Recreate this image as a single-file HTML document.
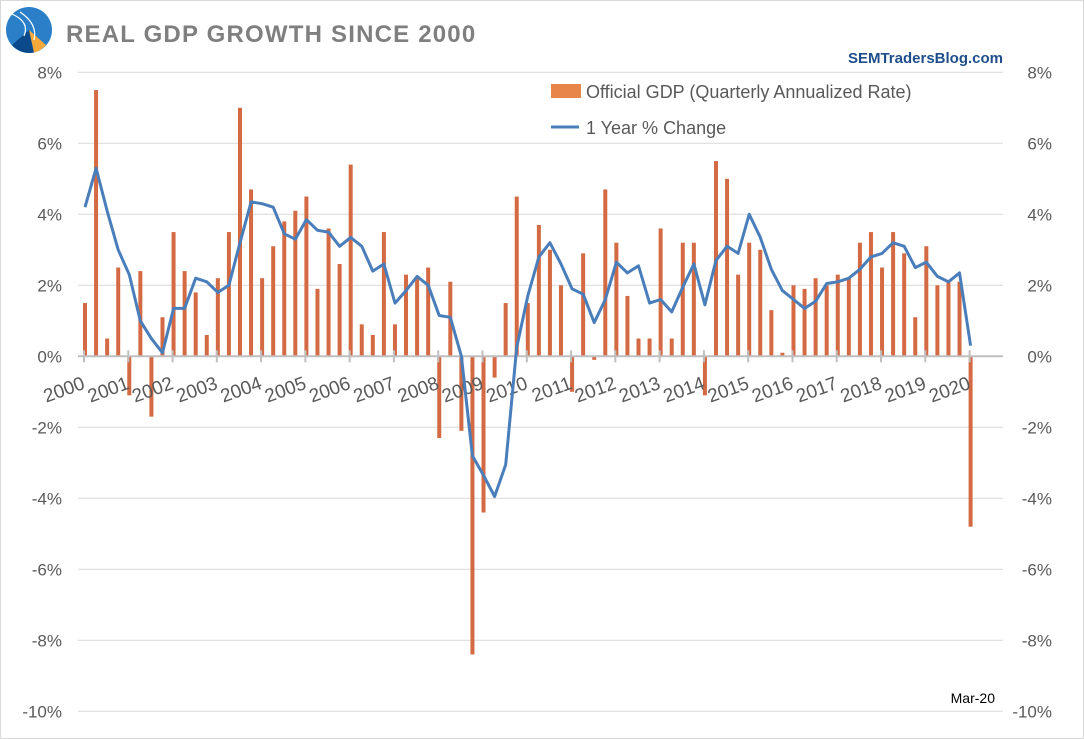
<!DOCTYPE html>
<html><head><meta charset="utf-8"><style>
html,body{margin:0;padding:0;background:#fff;}
body{width:1084px;height:739px;overflow:hidden;}
svg{display:block;font-family:"Liberation Sans",sans-serif;}
</style></head><body>
<svg width="1084" height="739" viewBox="0 0 1084 739">
<rect x="0.5" y="0.5" width="1083" height="738" fill="#fff" stroke="#d9d9d9"/>
<g>
<circle cx="29" cy="30" r="23" fill="#2a7fc8"/>
<path d="M29 30 L12 45 A23 23 0 0 0 34 52.5 Z" fill="#0b4a8a"/>
<path d="M29 30 L34 52.5 A23 23 0 0 0 46 45 Z" fill="#f5a93a"/>
<path d="M12 14 Q30 22 24 36 M20 12 Q38 24 34 40" stroke="#fff" stroke-width="1.2" fill="none"/>
</g>
<text x="66" y="42" font-size="24" font-weight="bold" fill="#7f7f7f" letter-spacing="1.2">REAL GDP GROWTH SINCE 2000</text>
<text x="1003" y="63" font-size="15" font-weight="bold" fill="#1f4e8c" text-anchor="end">SEMTradersBlog.com</text>
<g id="grid"></g>
<g id="bars"></g>
<g id="axis"></g>
<g id="line"></g>
<g>
<rect x="551" y="84" width="30" height="14" fill="#e8854a"/>
<text x="586" y="98" font-size="18" fill="#595959">Official GDP (Quarterly Annualized Rate)</text>
<line x1="551" y1="127" x2="579" y2="127" stroke="#4a7ebb" stroke-width="3"/>
<text x="586" y="134" font-size="18" fill="#595959">1 Year % Change</text>
</g>
<text x="995" y="703" font-size="14" fill="#000" text-anchor="end">Mar-20</text>
</svg>
<script>
const yTicks=[8,6,4,2,0,-2,-4,-6,-8,-10];
const years=['2000','2001','2002','2003','2004','2005','2006','2007','2008','2009','2010','2011','2012','2013','2014','2015','2016','2017','2018','2019','2020'];
const gdpQuarterly=[1.5,7.5,0.5,2.5,-1.1,2.4,-1.7,1.1,3.5,2.4,1.8,0.6,2.2,3.5,7.0,4.7,2.2,3.1,3.8,4.1,4.5,1.9,3.6,2.6,5.4,0.9,0.6,3.5,0.9,2.3,2.2,2.5,-2.3,2.1,-2.1,-8.4,-4.4,-0.6,1.5,4.5,1.5,3.7,3.0,2.0,-1.0,2.9,-0.1,4.7,3.2,1.7,0.5,0.5,3.6,0.5,3.2,3.2,-1.1,5.5,5.0,2.3,3.2,3.0,1.3,0.1,2.0,1.9,2.2,2.0,2.3,2.2,3.2,3.5,2.5,3.5,2.9,1.1,3.1,2.0,2.1,2.1,-4.8];
const yoyChange=[4.2,5.3,4.1,3.0,2.3,1.0,0.5,0.1,1.35,1.35,2.2,2.1,1.8,2.0,3.2,4.35,4.3,4.2,3.45,3.3,3.85,3.55,3.5,3.1,3.35,3.1,2.4,2.6,1.5,1.85,2.25,2.0,1.15,1.1,0.0,-2.8,-3.35,-3.95,-3.05,0.25,1.7,2.8,3.2,2.6,1.9,1.75,0.95,1.6,2.65,2.35,2.55,1.5,1.6,1.25,1.95,2.6,1.45,2.7,3.1,2.9,4.0,3.35,2.45,1.85,1.6,1.35,1.55,2.05,2.1,2.2,2.45,2.8,2.9,3.2,3.1,2.5,2.65,2.25,2.1,2.35,0.3];
const NS='http://www.w3.org/2000/svg';
const y0=356.3,ppu=35.5;
function Y(v){return y0-v*ppu;}
function X(i){return 85+i*11.07;}
function mk(t,a,p){const e=document.createElementNS(NS,t);for(const k in a)e.setAttribute(k,a[k]);p.appendChild(e);return e;}
const grid=document.getElementById('grid'),bars=document.getElementById('bars'),axis=document.getElementById('axis'),line=document.getElementById('line');
yTicks.forEach(v=>{
 if(v!==0){const g=mk('line',{x1:78,x2:1003,y1:Y(v),y2:Y(v),stroke:'#d9d9d9','stroke-width':1},grid);
 
 }
 const l=mk('text',{x:62,y:Y(v)+6,'font-size':17,fill:'#595959','text-anchor':'end'},grid);l.textContent=v+'%';
 
 
 const r=mk('text',{x:1052,y:Y(v)+6,'font-size':17,fill:'#595959','text-anchor':'end'},grid);r.textContent=v+'%';
 
 
});
gdpQuarterly.forEach((v,i)=>{
 const top=Math.min(Y(v),y0),h=Math.abs(Y(v)-y0);
 const b=mk('rect',{x:X(i)-2,y:top,width:4,height:Math.max(h,0.5),fill:'#d46a43'},bars);
 
 
});
const ax=mk('line',{x1:78,x2:1003,y1:y0,y2:y0,stroke:'#bfbfbf','stroke-width':2},axis);


years.forEach((yr,k)=>{
 const tx=X(k*4)-1;
 const t=mk('line',{x1:tx,x2:tx,y1:y0-6,y2:y0+6,stroke:'#bfbfbf','stroke-width':2},axis);
 
 
 const lx=tx+2,ly=y0+32;
 const l=mk('text',{x:lx,y:ly,'font-size':19,fill:'#595959','text-anchor':'end',transform:'rotate(-20 '+lx+' '+ly+')'},axis);
 l.textContent=yr;
 
 
});
const pts=yoyChange.map((v,i)=>X(i).toFixed(1)+','+Y(v).toFixed(1)).join(' ');
const pl=mk('polyline',{points:pts,fill:'none',stroke:'#4a7ebb','stroke-width':3,'stroke-linejoin':'round'},line);


</script>
</body></html>
